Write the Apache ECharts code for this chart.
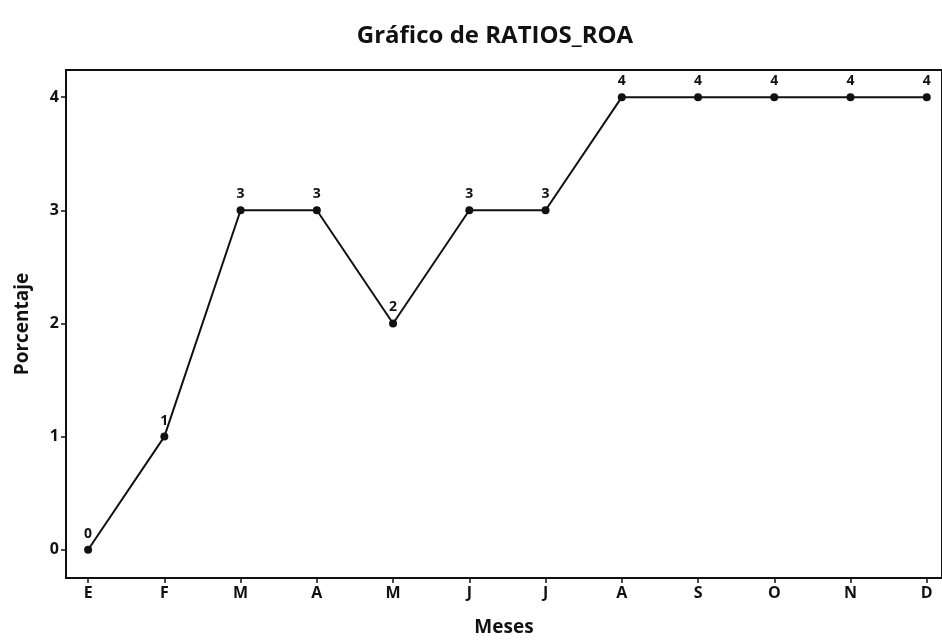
<!DOCTYPE html>
<html><head><meta charset="utf-8">
<script src="https://cdn.jsdelivr.net/npm/echarts@6/dist/echarts.min.js"></script>
<style>html,body{margin:0;padding:0;background:#fff}#c{width:942px;height:641px}</style>
</head><body><div id="c"></div>
<script>
const months = ['E','F','M','A','M','J','J','A','S','O','N','D'];
const values = [0,1,3,3,2,3,3,4,4,4,4,4];
const yTicks = [0,1,2,3,4];

const chart = echarts.init(document.getElementById('c'));
const FONT = '"Open Sans", sans-serif';
const xIdx = months.map((m,i)=>i);
chart.setOption({
  animation:false,
  backgroundColor:'#fff',
  title:{text:'Gráfico de RATIOS_ROA',left:490,top:19,textAlign:'center',
    textStyle:{fontFamily:FONT,fontSize:24,fontWeight:'bold',color:'#111'}},
  grid:{left:66,right:0,top:70,bottom:63,containLabel:false,outerBoundsMode:'none',
    show:true,borderColor:'#111',borderWidth:2,backgroundColor:'transparent'},
  xAxis:{type:'value',min:-0.29,max:11.2,
    name:'Meses',nameLocation:'middle',nameGap:40,
    nameTextStyle:{fontFamily:FONT,fontSize:19,fontWeight:'bold',color:'#111'},
    axisLine:{show:true,onZero:false,lineStyle:{color:'#111',width:2}},
    axisTick:{show:true,length:5,lineStyle:{color:'#111',width:1.5},customValues:xIdx},
    axisLabel:{fontFamily:FONT,fontSize:16,fontWeight:'bold',color:'#111',margin:7,customValues:xIdx,
      formatter:v=>months[Math.round(v)]},
    splitLine:{show:false}},
  yAxis:{type:'value',min:-0.25,max:4.24,
    name:'Porcentaje',nameLocation:'middle',nameGap:34,nameRotate:90,
    nameTextStyle:{fontFamily:FONT,fontSize:19,fontWeight:'bold',color:'#111'},
    axisLine:{show:true,onZero:false,lineStyle:{color:'#111',width:2}},
    axisTick:{show:true,length:5,lineStyle:{color:'#111',width:1.5},customValues:yTicks},
    axisLabel:{fontFamily:FONT,fontSize:16,fontWeight:'bold',color:'#111',margin:7,customValues:yTicks},
    splitLine:{show:false}},
  series:[{type:'line',data:values.map((v,i)=>[i,v]),
    symbol:'circle',symbolSize:8,
    lineStyle:{color:'#111',width:2},itemStyle:{color:'#111'},
    label:{show:true,position:'top',distance:5,fontFamily:FONT,fontSize:14,fontWeight:'bold',color:'#111',
      formatter:p=>p.value[1]}}]
});
</script></body></html>
